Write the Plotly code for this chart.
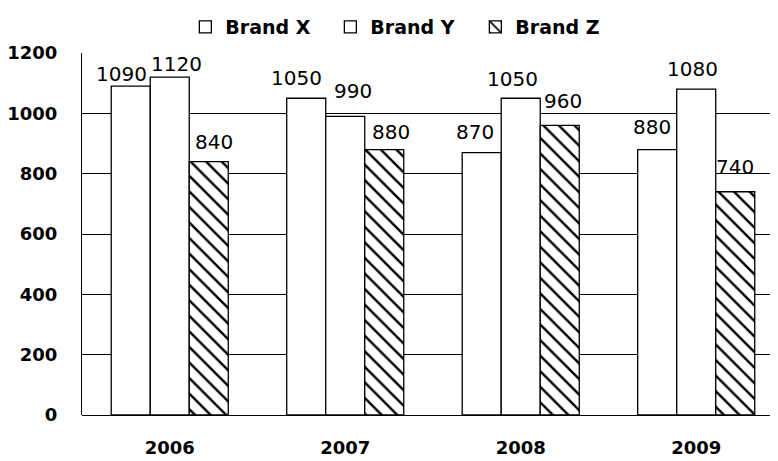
import plotly.graph_objects as go

years = ["2006", "2007", "2008", "2009"]
brand_x = [1090, 1050, 870, 880]
brand_y = [1120, 990, 1050, 1080]
brand_z = [840, 880, 960, 740]
y_ticks = [0, 200, 400, 600, 800, 1000, 1200]

# small pixel nudges of the value labels (as placed in the reference)
label_dx = {"Brand X": [-9, -10, -7, -5], "Brand Y": [7, 8, -8, -4], "Brand Z": [5, 7, 3, 0]}
label_dy = {"Brand X": [-2, 6, 7, 9], "Brand Y": [-1, 11, 5, 6], "Brand Z": [6, 4, 10, 11]}

FONT = "DejaVu Sans"
BARGAP = 0.333

fig = go.Figure()
series = [("Brand X", brand_x), ("Brand Y", brand_y), ("Brand Z", brand_z)]
for name, vals in series:
    marker = dict(color="white", line=dict(color="black", width=1.3))
    if name == "Brand Z":
        marker["pattern"] = dict(shape="\\", fgcolor="black", bgcolor="white",
                                 fgopacity=1, size=11, solidity=0.22)
    fig.add_trace(go.Bar(name=name, x=years, y=vals, marker=marker))

# value labels, anchored to each bar through the axes
bar_w = (1 - BARGAP) / len(series)
for k, (name, vals) in enumerate(series):
    off = (k - (len(series) - 1) / 2) * bar_w
    for i, v in enumerate(vals):
        fig.add_annotation(
            x=i + off, y=v, xref="x", yref="y", text=str(v), showarrow=False,
            yanchor="bottom", xanchor="center",
            xshift=label_dx[name][i], yshift=label_dy[name][i],
            font=dict(family=FONT, size=20, color="black"),
        )

# page body has an 8px margin, so the figure is drawn 8px in from the top-left
fig.update_layout(
    width=770, height=453,
    margin=dict(l=74, r=0, t=44, b=46),
    paper_bgcolor="white", plot_bgcolor="white",
    barmode="group", bargap=BARGAP, bargroupgap=0,
    font=dict(family=FONT, color="black"),
    showlegend=True,
    legend=dict(
        orientation="h", x=0.461, xanchor="center", y=1.0716, yanchor="middle",
        font=dict(family=FONT, size=19, color="black", weight="bold"),
        entrywidth=100, entrywidthmode="pixels",
        bgcolor="rgba(0,0,0,0)",
    ),
)
fig.update_xaxes(
    type="category", range=[-0.5, 3.466], showgrid=False,
    showline=False, ticks="", ticklabelstandoff=20,
    tickfont=dict(family=FONT, size=18, color="black", weight="bold"),
    automargin=False,
)
fig.update_yaxes(
    range=[0, 1200], tickvals=y_ticks, ticktext=[str(v) for v in y_ticks],
    showgrid=True, gridcolor="black", gridwidth=1,
    showline=True, linecolor="black", linewidth=1,
    zeroline=True, zerolinecolor="black", zerolinewidth=1,
    ticks="", ticklabelstandoff=20,
    tickfont=dict(family=FONT, size=18, color="black", weight="bold"),
    automargin=False,
)

fig.write_html("out.html")
